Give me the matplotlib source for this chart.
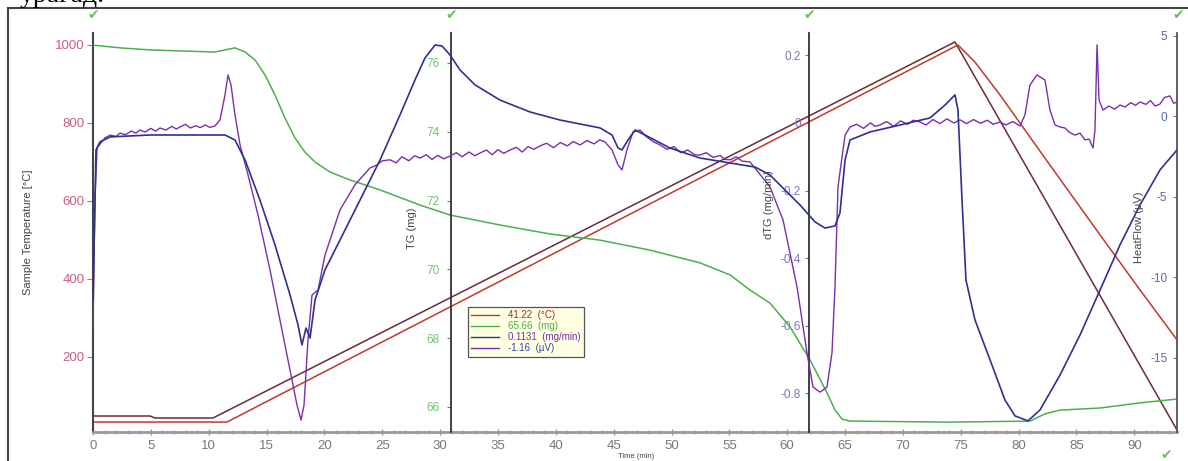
import matplotlib
matplotlib.use('Agg')
import matplotlib.pyplot as plt
from matplotlib.lines import Line2D
from matplotlib.ticker import MultipleLocator

plt.rcParams['font.family'] = ['Liberation Sans', 'DejaVu Sans']

# ---------------- data ----------------
# TG (mg)
tg_time = [0, 2.33, 4.93, 7.52, 10.54, 11.41, 12.27, 13.14, 14.0, 14.87, 15.73, 16.59,
           17.46, 18.32, 19.19, 20.48, 22.21, 24.81, 28.26, 30.86, 35.18, 39.5, 43.82,
           48.14, 52.46, 55.06, 56.78, 58.51, 60.24, 61.97, 63.44, 64.13, 64.74, 65.43,
           74.07, 80.98, 82.28, 83.58, 87.04, 90.49, 93.69]
tg_mg = [76.52, 76.44, 76.38, 76.35, 76.32, 76.38, 76.44, 76.32, 76.09, 75.65, 75.07, 74.4,
         73.82, 73.41, 73.12, 72.83, 72.6, 72.31, 71.87, 71.58, 71.29, 71.03, 70.85,
         70.56, 70.19, 69.84, 69.4, 69.02, 68.33, 67.37, 66.41, 65.91, 65.65, 65.59,
         65.56, 65.59, 65.8, 65.91, 65.97, 66.12, 66.23]

# Program temperature (degC)
prog_time = [0, 4.93, 5.36, 10.37, 74.5, 93.69]
prog_temp = [48.7, 48.7, 43.6, 43.6, 1007.7, 12.8]

# Sample temperature (degC)
samp_time = [0, 11.58, 74.76, 76.23, 78.39, 82.71, 87.04, 90.49, 93.69]
samp_temp = [33.3, 33.3, 1000, 956, 872, 692, 513, 372, 244]

# Heat flow (uV)
hf_time = [0, 0.26, 0.6, 1.47, 4.93, 11.41, 12.27, 13.14, 14.43, 15.73, 17.03, 17.72,
           18.06, 18.41, 18.76, 19.19, 20.05, 21.35, 23.08, 24.81, 26.53, 27.83, 28.69,
           29.56, 30.16, 30.86, 31.72, 33.02, 35.18, 37.77, 40.36, 43.82, 44.86, 45.38,
           45.72, 46.24, 46.85, 47.71, 49.87, 52.46, 55.06, 57.22, 58.51, 59.81, 61.11,
           62.4, 63.27, 64.13, 64.56, 65.0, 65.43, 67.16, 69.75, 72.34, 73.64, 74.5,
           74.76, 75.11, 75.45, 76.23, 77.53, 78.82, 79.69, 80.81, 81.85, 83.58, 85.31,
           87.04, 88.76, 90.49, 92.22, 93.69]
hf_uv = [-11.4, -2.08, -1.58, -1.27, -1.15, -1.15, -1.46, -2.7, -5.19, -7.98, -11.09, -12.95,
         -14.19, -13.14, -13.76, -11.4, -9.53, -7.67, -5.19, -2.7, 0.09, 2.27, 3.63,
         4.44, 4.38, 3.82, 2.89, 1.96, 1.02, 0.28, -0.22, -0.71, -1.15, -1.96,
         -2.08, -1.46, -0.84, -1.15, -1.96, -2.58, -2.89, -3.14, -3.63, -4.57, -5.5,
         -6.55, -6.93, -6.8, -5.99, -2.7, -1.46, -0.96, -0.53, -0.09, 0.71, 1.34,
         0.4, -5.19, -10.16, -12.64, -15.12, -17.61, -18.6, -18.91, -18.23, -16.06, -13.57,
         -10.78, -7.98, -5.5, -3.32, -2.08]

# dTG (mg/min), noisy signal read point by point
dtg_time = [0, 0.17, 0.35, 1.04, 1.5, 2.0, 2.33, 2.8, 3.3, 3.7, 4.06, 4.5, 5.0, 5.4, 5.79,
            6.3, 6.8, 7.2, 7.52, 8.0, 8.4, 8.9, 9.25, 9.7, 10.1, 10.54,
            10.98, 11.41, 11.67, 11.93, 12.27, 12.71, 13.4, 14.26, 15.3, 16.16, 17.03, 17.63,
            17.98, 18.24, 18.58, 18.93, 19.45, 20.05, 21.35, 22.64, 23.94, 24.5, 25.0, 25.67,
            26.2, 26.7, 27.3, 27.8, 28.26, 28.8, 29.3, 29.8, 30.3, 30.86, 31.4, 31.9, 32.5,
            33.0, 33.45, 34.0, 34.5, 35.0, 35.5, 36.04, 36.6, 37.1, 37.6, 38.1, 38.63, 39.2,
            39.8, 40.4, 41.0, 41.5, 42.09, 42.7, 43.3, 43.8, 44.25, 44.86, 45.38, 45.72, 46.15,
            46.67, 47.28, 47.8, 48.4, 49.01, 49.6, 50.2, 50.8, 51.4, 52.0, 52.46, 53.0, 53.6,
            54.2, 54.6, 55.06, 55.6, 56.1, 56.78, 58.51, 59.64, 60.85, 61.71, 62.23, 62.84,
            63.44, 63.87, 64.13, 64.39, 65.0, 65.43, 66.0, 66.6, 67.2, 67.6, 68.02, 68.6, 69.2,
            69.8, 70.4, 70.9, 71.48, 72.0, 72.6, 73.2, 73.8, 74.4, 74.94, 75.5, 76.1, 76.7,
            77.3, 77.8, 78.39, 78.9, 79.5, 80.12, 80.55, 80.98, 81.59, 82.28, 82.71, 83.15,
            83.6, 84.01, 84.4, 84.87, 85.3, 85.74, 86.1, 86.43, 86.6, 86.78, 86.95, 87.29,
            87.8, 88.3, 88.76, 89.2, 89.7, 90.1, 90.49, 91.0, 91.4, 91.8, 92.22, 92.6, 93.08,
            93.4, 93.69]
dtg_val = [-0.612, -0.228, -0.074, -0.044, -0.036, -0.040, -0.030, -0.035, -0.024, -0.030,
           -0.021, -0.027, -0.016, -0.024, -0.015, -0.021, -0.010, -0.018, -0.012, -0.004,
           -0.015, -0.008, -0.014, -0.006, -0.013, -0.009,
           0.009, 0.083, 0.142, 0.112, 0.024, -0.065, -0.154, -0.272, -0.435, -0.583, -0.731,
           -0.834, -0.879, -0.834, -0.642, -0.509, -0.494, -0.391, -0.257, -0.183, -0.133,
           -0.125, -0.112, -0.109, -0.118, -0.100, -0.112, -0.097, -0.104, -0.094, -0.108,
           -0.096, -0.106, -0.098, -0.088, -0.100, -0.086, -0.097, -0.089, -0.080, -0.094,
           -0.079, -0.090, -0.080, -0.072, -0.086, -0.070, -0.078, -0.068, -0.060, -0.073,
           -0.058, -0.068, -0.055, -0.065, -0.052, -0.062, -0.050, -0.056, -0.080, -0.124,
           -0.139, -0.080, -0.027, -0.021, -0.040, -0.055, -0.065, -0.078, -0.070, -0.088,
           -0.080, -0.094, -0.095, -0.088, -0.102, -0.096, -0.108, -0.109, -0.100, -0.113,
           -0.115, -0.189, -0.287, -0.485, -0.68, -0.781, -0.796, -0.781, -0.68, -0.485,
           -0.189, -0.036, -0.012, -0.004, -0.016, 0.000, -0.010, -0.006, 0.004, -0.010,
           0.006, -0.004, 0.008, 0.003, -0.006, 0.010, -0.002, 0.012, 0.000, 0.009, -0.002,
           0.010, -0.001, 0.008, -0.004, 0.003, -0.006, 0.004, -0.009, 0.024, 0.112, 0.142,
           0.127, 0.038, -0.006, -0.012, -0.015, -0.028, -0.036, -0.030, -0.05, -0.048,
           -0.074, -0.021, 0.231, 0.068, 0.038, 0.050, 0.041, 0.053, 0.047, 0.060, 0.052,
           0.062, 0.055, 0.066, 0.050, 0.056, 0.075, 0.080, 0.058, 0.062]

x_ticks = list(range(0, 95, 5))
temp_ticks = [200, 400, 600, 800, 1000]
tg_ticks = [66, 68, 70, 72, 74, 76]
dtg_ticks = [-0.8, -0.6, -0.4, -0.2, 0, 0.2]
dtg_tick_labels = ['-0.8', '-0.6', '-0.4', '-0.2', '0', '0.2']
hf_ticks = [-15, -10, -5, 0, 5]

legend_labels = ['41.22  (°C)', '65.66  (mg)', '0.1131  (mg/min)', '-1.16  (µV)']

# ---------------- styling ----------------
C_TEMP = '#c0392b'
C_PROG = '#6b2a36'
C_TG = '#4cb04a'
C_HF = '#2d3190'
C_DTG = '#7a2fa8'

W, H = 1188, 461
fig = plt.figure(figsize=(W / 100, H / 100), dpi=100)
fig.patch.set_facecolor('white')

L, R, T, B = 93, 1177, 33, 432
ax = fig.add_axes([L / W, (H - B) / H, (R - L) / W, (B - T) / H])
ax.set_xlim(0, 93.69)
ax.set_ylim(7.7, 1030.7)

ax2 = ax.twinx()
ax2.set_ylim(65.273, 76.872)
ax3 = ax.twinx()
ax3.set_ylim(-0.914, 0.266)
ax4 = ax.twinx()
ax4.set_ylim(-19.6, 5.186)

# curves
ax2.plot(tg_time, tg_mg, color=C_TG, lw=1.1, zorder=2)
ax.plot(prog_time, prog_temp, color=C_PROG, lw=1.1, zorder=2)
ax.plot(samp_time, samp_temp, color=C_TEMP, lw=1.1, zorder=2)
ax4.plot(hf_time, hf_uv, color=C_HF, lw=1.2, zorder=3)
ax3.plot(dtg_time, dtg_val, color=C_DTG, lw=1.0, zorder=4)

# main axis
for s in ['top', 'right']:
    ax.spines[s].set_visible(False)
ax.spines['left'].set_color('#444444')
ax.spines['left'].set_linewidth(1.5)
ax.spines['bottom'].set_color('#999999')
ax.spines['bottom'].set_linewidth(2.0)
ax.set_xticks(x_ticks)
ax.xaxis.set_minor_locator(MultipleLocator(1))
ax.tick_params(axis='x', which='major', direction='inout', length=5, width=1,
               color='#999999', labelsize=9.5, labelcolor='#777777', pad=3)
ax.tick_params(axis='x', which='minor', direction='inout', length=3, width=0.8, color='#aaaaaa')
ax.set_yticks(temp_ticks)
ax.tick_params(axis='y', direction='out', length=4, color='#888888', labelsize=9.5,
               labelcolor='#c8607e', pad=2)


def setup_twin(a, pos, ticks, labels, col, fs=8.5, pad=5):
    for s in ['top', 'right', 'bottom']:
        a.spines[s].set_visible(False)
    a.spines['left'].set_visible(True)
    a.spines['left'].set_position(('axes', pos))
    a.spines['left'].set_color('#333333')
    a.spines['left'].set_linewidth(1.3)
    a.yaxis.set_ticks_position('left')
    a.yaxis.set_label_position('left')
    a.set_yticks(ticks)
    a.set_yticklabels(labels)
    a.tick_params(axis='y', direction='out', length=3, color='#777777', labelsize=fs,
                  labelcolor=col, pad=pad)


setup_twin(ax2, (451 - L) / (R - L), tg_ticks, [str(v) for v in tg_ticks], '#6cc66c', pad=5)
setup_twin(ax3, (809 - L) / (R - L), dtg_ticks, dtg_tick_labels, '#7878b4', pad=3)
setup_twin(ax4, 1.0, hf_ticks, [str(v) for v in hf_ticks], '#5566b0', pad=4)
ax4.spines['left'].set_color('#555555')

# axis titles
fig.text(28 / W, 1 - 232 / H, 'Sample Temperature [°C]', rotation=90, ha='center', va='center',
         fontsize=8, color='#444444')
fig.text(412 / W, 1 - 228 / H, 'TG (mg)', rotation=90, ha='center', va='center',
         fontsize=8, color='#444444')
fig.text(769 / W, 1 - 205 / H, 'dTG (mg/min)', rotation=90, ha='center', va='center',
         fontsize=8, color='#444444')
fig.text(1139 / W, 1 - 227 / H, 'HeatFlow (µV)', rotation=90, ha='center', va='center',
         fontsize=8, color='#444444')
fig.text(636 / W, 1 - 456 / H, 'Time (min)', ha='center', va='center', fontsize=5.5,
         color='#444444')

# legend
handles = [Line2D([], [], color=C_TEMP, lw=1.0), Line2D([], [], color=C_TG, lw=1.0),
           Line2D([], [], color=C_HF, lw=1.0), Line2D([], [], color=C_DTG, lw=1.0)]
leg = ax4.legend(handles, legend_labels, loc='upper left',
                 bbox_to_anchor=((468 - L) / (R - L), (B - 307) / (B - T)),
                 borderaxespad=0, fontsize=7, handlelength=2.8, handletextpad=1.0,
                 labelspacing=0.1, borderpad=0.35, fancybox=False, framealpha=1)
leg.get_frame().set_facecolor('#ffffe4')
leg.get_frame().set_edgecolor('#555555')
leg.get_frame().set_linewidth(0.9)
for txt, c in zip(leg.get_texts(), ['#9a3030', C_TG, C_DTG, '#3344aa']):
    txt.set_color(c)
leg.set_zorder(10)

# green marks at axis tops
for px, py in [(93, 15), (451, 15), (809, 15), (1178, 15), (1166, 455)]:
    fig.text(px / W, 1 - py / H, '✔', ha='center', va='center', fontsize=10,
             color='#70c060', family='DejaVu Sans')

# outer frame
fig.add_artist(Line2D([8 / W, 8 / W], [0, 1 - 8 / H], transform=fig.transFigure,
                      color='#444444', lw=1.5))
fig.add_artist(Line2D([8 / W, 1], [1 - 8 / H, 1 - 8 / H], transform=fig.transFigure,
                      color='#444444', lw=1.5))

# caption text at the very top (cut by the edge in the reference)
fig.text(20 / W, 1 - 2 / H, 'урагад.', ha='left', va='baseline', fontsize=20,
         family=['Liberation Serif', 'DejaVu Serif'], color='black')

fig.savefig('out.png', dpi=100)
